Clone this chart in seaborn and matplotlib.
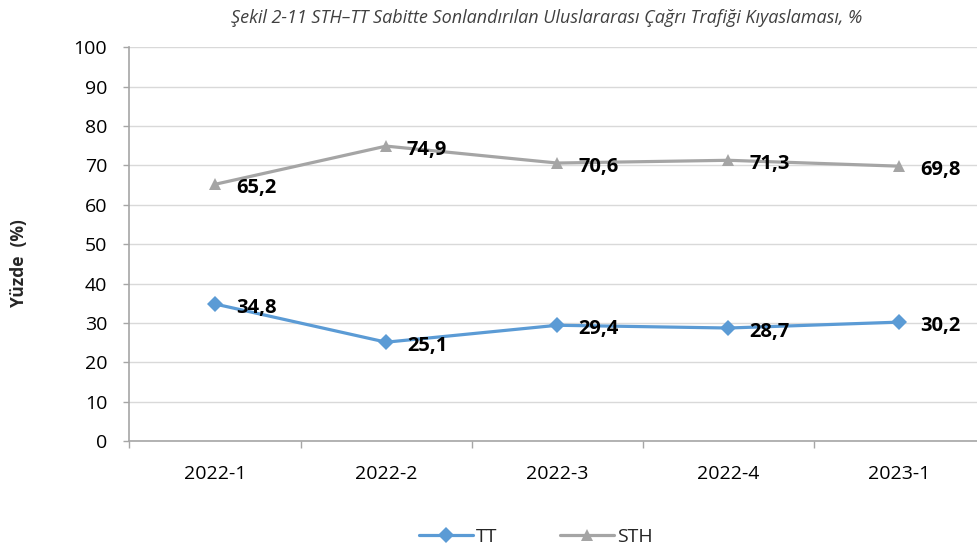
import pandas as pd
import matplotlib.pyplot as plt
import seaborn as sns

# Data
periods = ["2022-1", "2022-2", "2022-3", "2022-4", "2023-1"]
tt_values = [34.8, 25.1, 29.4, 28.7, 30.2]
sth_values = [65.2, 74.9, 70.6, 71.3, 69.8]
series_names = ["TT", "STH"]

title = "Şekil 2-11 STH–TT Sabitte Sonlandırılan Uluslararası Çağrı Trafiği Kıyaslaması, %"
y_label = "Yüzde  (%)"

df = pd.DataFrame({
    "period": periods * 2,
    "value": tt_values + sth_values,
    "series": ["TT"] * len(periods) + ["STH"] * len(periods),
})

sns.set_theme(style="white")
plt.rcParams['font.family'] = ['Open Sans', 'DejaVu Sans']

colors = {"TT": "#5B9BD5", "STH": "#A5A5A5"}
markers = {"TT": "D", "STH": "^"}

fig = plt.figure(figsize=(9.78, 5.53), dpi=100)
ax = fig.add_axes([0.1324, 0.2025, 0.8748, 0.712])

sns.lineplot(data=df, x="period", y="value", hue="series", style="series",
             hue_order=series_names, style_order=series_names,
             palette=colors, markers=markers, dashes=False, sort=False,
             linewidth=2.3, markersize=8.5, markeredgewidth=0, ax=ax)

# Value labels
for vals in (tt_values, sth_values):
    for i, v in enumerate(vals):
        ax.annotate(f"{v:.1f}".replace(".", ","), (i, v), xytext=(15, -3),
                    textcoords="offset points", ha="left", va="center",
                    fontsize=14.5, fontweight="bold", color="black")

ax.set_ylim(0, 100)
ax.set_yticks(range(0, 101, 10))
ax.set_xlim(-0.5, len(periods) - 0.5)
ax.set_xticks(range(len(periods)))
ax.set_xticklabels(periods)
ax.tick_params(axis="x", length=0, pad=17, labelsize=14, labelcolor="black")
ax.tick_params(axis="y", length=4, left=True, color="#A6A6A6", width=1,
               labelsize=14, pad=12, labelcolor="black")
ax.set_xticks([i + 0.5 for i in range(-1, len(periods))], minor=True)
ax.tick_params(axis="x", which="minor", bottom=True, length=5, color="#A6A6A6", width=1)

ax.yaxis.grid(True, color="#D9D9D9", linewidth=1)
ax.set_axisbelow(True)
for side in ("top", "right"):
    ax.spines[side].set_visible(False)
for side in ("left", "bottom"):
    ax.spines[side].set_color("#A6A6A6")
    ax.spines[side].set_linewidth(1.2)

ax.set_xlabel("")
ax.set_ylabel("")
fig.text(0.019, 0.525, y_label, rotation=90, ha="center", va="center",
         fontsize=12.5, fontweight="bold")
fig.text(0.559, 0.968, title, ha="center", va="center", fontsize=13,
         style="italic", color="#404040")

handles, labels = ax.get_legend_handles_labels()
ax.legend(handles, labels, loc="center", bbox_to_anchor=(0.548, 0.029),
          bbox_transform=fig.transFigure, ncol=2, frameon=False, fontsize=14,
          handlelength=2.8, columnspacing=3.2, handletextpad=0.15)

fig.savefig("out.png", dpi=100)
